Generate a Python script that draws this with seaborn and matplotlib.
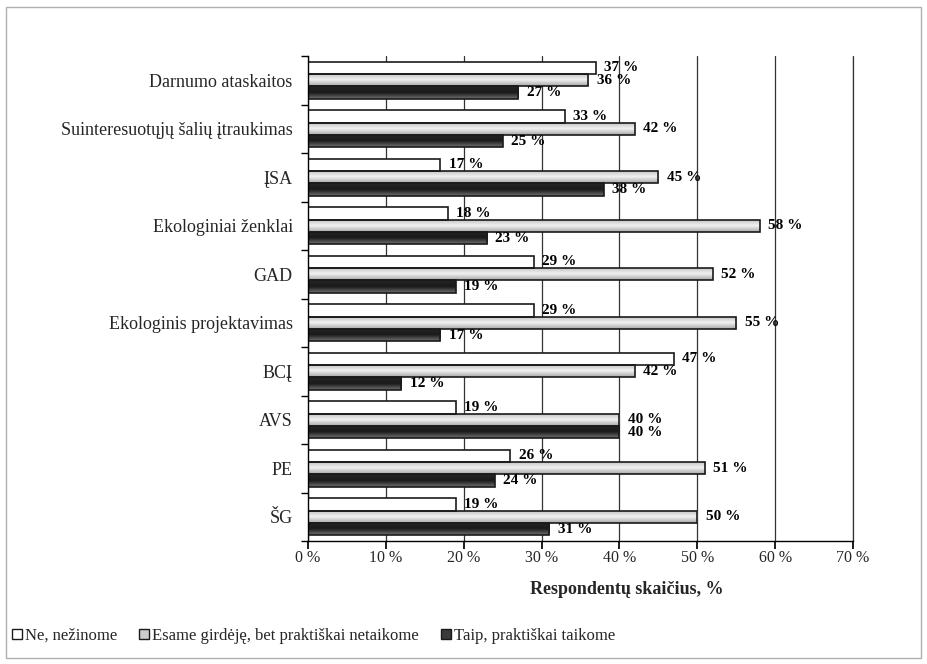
import numpy as np
import pandas as pd
import matplotlib.pyplot as plt
from matplotlib.colors import LinearSegmentedColormap
from matplotlib.patches import Rectangle, Patch
import seaborn as sns

categories = ["Darnumo ataskaitos", "Suinteresuotųjų šalių įtraukimas", "ĮSA",
              "Ekologiniai ženklai", "GAD", "Ekologinis projektavimas", "BCĮ",
              "AVS", "PE", "ŠG"]
series = ["Ne, nežinome", "Esame girdėję, bet praktiškai netaikome",
          "Taip, praktiškai taikome"]
ne_nezinome = [37, 33, 17, 18, 29, 29, 47, 19, 26, 19]
girdeje = [36, 42, 45, 58, 52, 55, 42, 40, 51, 50]
taikome = [27, 25, 38, 23, 19, 17, 12, 40, 24, 31]
xticks = [0, 10, 20, 30, 40, 50, 60, 70]

df = pd.DataFrame({
    "cat": categories * 3,
    "series": [series[0]] * 10 + [series[1]] * 10 + [series[2]] * 10,
    "val": ne_nezinome + girdeje + taikome,
})

sns.set_theme(style="white")
plt.rcParams["font.family"] = ["Liberation Serif", "DejaVu Serif"]

fig = plt.figure(figsize=(9.28, 6.64), dpi=100)
ax = fig.add_axes([308 / 928, 1 - 541 / 664, 545 / 928, 485 / 664])

sns.barplot(data=df, x="val", y="cat", hue="series", orient="h",
            palette=["white", "#d0d0d0", "#404040"], width=0.76,
            edgecolor="#1a1a1a", linewidth=1.2, legend=False, ax=ax)

ax.set_xlim(0, 70)
ax.set_ylim(9.5, -0.5)
xl, yl = ax.get_xlim(), ax.get_ylim()

# gradient fills like the original office chart
grey_cm = LinearSegmentedColormap.from_list("g", ["#bdbdbd", "#f2f2f2", "#a8a8a8"])
dark_cm = LinearSegmentedColormap.from_list("d", ["#262626", "#1a1a1a", "#707070"])
grad = np.linspace(0, 1, 64).reshape(-1, 1)
for cont, cm in [(ax.containers[1], grey_cm), (ax.containers[2], dark_cm)]:
    for p in cont:
        x0, y0 = p.get_x(), p.get_y()
        w, h = p.get_width(), p.get_height()
        im = ax.imshow(grad, cmap=cm, aspect="auto", extent=[x0, x0 + w, y0 + h, y0],
                       zorder=p.get_zorder() - 0.01, interpolation="bilinear")
        im.set_clip_path(p)
        p.set_facecolor("none")
ax.set_xlim(xl)
ax.set_ylim(yl)
ax.set_aspect("auto")

for cont, vals in zip(ax.containers, [ne_nezinome, girdeje, taikome]):
    ax.bar_label(cont, labels=[f"{v} %" for v in vals], padding=6,
                 fontsize=11, fontweight="bold", color="black")

ax.set_axisbelow(True)
ax.grid(axis="x", color="#333333", linewidth=0.9)
ax.grid(axis="y", visible=False)
ax.axvline(70, color="#333333", linewidth=0.9, zorder=0.5, clip_on=False)
sns.despine(ax=ax, top=True, right=True)
for s in ["left", "bottom"]:
    ax.spines[s].set_color("black")
    ax.spines[s].set_linewidth(1)

ax.set_xticks(xticks)
ax.set_xticklabels([f"{t} %" for t in xticks], fontsize=11.5)
ax.tick_params(axis="x", direction="out", length=6, color="black", pad=0.5, bottom=True)
ax.set_yticks(range(len(categories)))
ax.set_yticklabels(categories, fontsize=13)
ax.tick_params(axis="y", length=0, pad=11)
ax.set_yticks(np.arange(-0.5, 10, 1), minor=True)
ax.tick_params(axis="y", which="minor", direction="out", length=5, color="black", left=True)

ax.set_ylabel("")
ax.set_xlabel("Respondentų skaičius, %", fontsize=13, fontweight="bold")
ax.xaxis.set_label_coords((627 - 308) / 545, -(581 - 541) / 485)

handles = [Patch(facecolor=c, edgecolor="#1a1a1a", linewidth=1) for c in
           ["white", "#cccccc", "#3a3a3a"]]
fig.legend(handles, series, loc="center left", bbox_to_anchor=(5 / 928, 1 - 636 / 664),
           ncol=3, frameon=False, fontsize=12, handlelength=0.6, handleheight=0.6,
           handletextpad=0.2, columnspacing=1.3, borderaxespad=0)

fig.patches.append(Rectangle((6 / 928, 6 / 664), 915 / 928, 651 / 664,
                             transform=fig.transFigure, fill=False,
                             edgecolor="#b0b0b0", linewidth=1))

fig.savefig("out.png", dpi=100)
